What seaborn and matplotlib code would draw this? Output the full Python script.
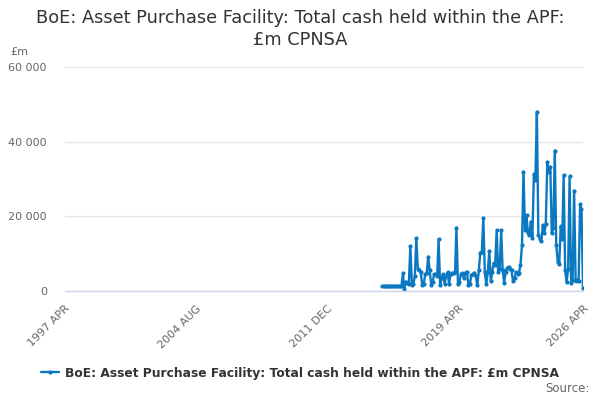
import matplotlib
matplotlib.use("Agg")
import matplotlib.pyplot as plt
import matplotlib.ticker as mticker
import seaborn as sns
import pandas as pd

# ---- data (monthly, £m) ----
start_month = "2015-01-01"
values = [
    1300, 1300, 1300, 1300, 1300, 1300, 1300, 1300, 1300, 1300,
    1300, 1300, 1300, 1300, 4700, 450, 2500, 2200, 2000, 12000,
    1500, 2000, 4000, 14100, 6000, 5500, 5000, 1500, 1800, 4500,
    4800, 9200, 5500, 1700, 2500, 4500, 4500, 4000, 13800, 1700,
    3500, 4500, 2000, 4000, 5000, 1900, 4500, 4800, 4900, 5000,
    17000, 1900, 2500, 4500, 4700, 3500, 4900, 5200, 1500, 1800,
    4300, 4500, 4900, 4000, 1500, 5500, 10300, 10500, 19600, 5000,
    1900, 5000, 10700, 2600, 5000, 7500, 7000, 16300, 5000, 6000,
    16300, 5500, 2200, 5000, 6200, 6500, 5800, 5500, 2600, 3500,
    5000, 4500, 4900, 7000, 12300, 32000, 16300, 20300, 15500, 15000,
    18600, 14300, 31300, 29700, 48000, 15000, 14000, 13400, 17700, 15500,
    18000, 34600, 32000, 33300, 15500, 17000, 37600, 12300, 7800, 7300,
    17300, 14000, 31000, 5600, 2300, 6000, 30700, 2200, 3000, 26900,
    2700, 3000, 2700, 23200, 22000, 700,
]
series_name = "BoE: Asset Purchase Facility: Total cash held within the APF: £m CPNSA"
title = "BoE: Asset Purchase Facility: Total cash held within the APF:\n£m CPNSA"
x_label_dates = ["1997-04-01", "2004-08-01", "2011-12-01", "2019-04-01", "2026-04-01"]
x_tick_labels = ["1997 APR", "2004 AUG", "2011 DEC", "2019 APR", "2026 APR"]
y_ticks = [0, 20000, 40000, 60000]

dates = pd.date_range(start_month, periods=len(values), freq="MS")
df = pd.DataFrame({"date": dates, "value": values, "series": series_name})

sns.set_theme(style="white")
plt.rcParams["font.family"] = ["DejaVu Sans"]

line_color = "#0b78c2"
axis_color = "#ccd6eb"
grid_color = "#e6e6e6"
label_color = "#666666"

fig = plt.figure(figsize=(6, 4), dpi=100)
ax = fig.add_axes([65 / 600, 1 - 291 / 400, (583 - 65) / 600, (291 - 67) / 400])

sns.lineplot(data=df, x="date", y="value", hue="series", palette=[line_color],
             marker="o", markersize=3, markeredgewidth=0, linewidth=1.7,
             ax=ax, legend=False)

ax.set_xlim(pd.Timestamp(x_label_dates[0]), pd.Timestamp(x_label_dates[-1]))
ax.set_ylim(0, 60000)

# y axis
ax.set_yticks(y_ticks)
ax.yaxis.set_major_formatter(mticker.FuncFormatter(lambda v, p: f"{int(v):,}".replace(",", " ")))
ax.tick_params(axis="y", length=0, labelsize=8, labelcolor=label_color, pad=13)
ax.yaxis.grid(True, color=grid_color, linewidth=1)
ax.set_axisbelow(True)

# x axis
major = [pd.Timestamp(d) for d in x_label_dates]
ax.set_xticks(major)
ax.set_xticklabels(x_tick_labels, rotation=45, ha="right", rotation_mode="anchor")
minor = pd.date_range(x_label_dates[0], x_label_dates[-1], freq="22MS")
ax.set_xticks(list(minor), minor=True)
ax.tick_params(axis="x", which="both", length=9, width=1, color=axis_color,
               labelsize=8, labelcolor=label_color, direction="out", pad=0)
ax.tick_params(axis="x", which="minor", labelbottom=False)

for s in ["top", "right", "left"]:
    ax.spines[s].set_visible(False)
ax.spines["bottom"].set_color(axis_color)
ax.spines["bottom"].set_linewidth(1)
ax.set_xlabel("")
ax.set_ylabel("")

fig.text(0.5, 1 - 29 / 400, title, ha="center", va="center", fontsize=12.8,
         color="#333333", linespacing=1.25)
fig.text(10 / 600, 1 - 52 / 400, "£m", ha="left", va="center", fontsize=8, color=label_color)

handle = plt.Line2D([], [], color=line_color, marker="o", markersize=3,
                    markeredgewidth=0, linewidth=1.7)
fig.legend([handle], [series_name], loc="center", bbox_to_anchor=(0.5, 1 - 373 / 400),
           frameon=False, prop={"weight": "bold", "size": 8.85}, labelcolor="#333333",
           handlelength=1.4, handletextpad=0.5)
fig.text(590 / 600, 1 - 388 / 400, "Source:", ha="right", va="center", fontsize=8.5,
         color=label_color)

fig.savefig("out.png", dpi=100)
